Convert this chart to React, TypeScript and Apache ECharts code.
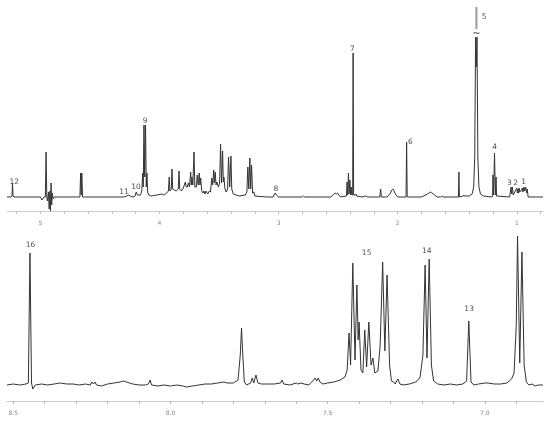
import React, { useEffect, useRef } from "react";
import * as echarts from "echarts";

// Upper panel spectrum (ppm, intensity)
const topSpectrum: [number, number][] = [
  [5.28, 0], [5.245, 0], [5.238, 1], [5.234, 14], [5.229, 1], [5.222, 0],
  [5.1, 0], [5.0, 0], [4.985, -3], [4.97, 0],
  [4.958, 0], [4.952, 45], [4.946, 0], [4.94, -4], [4.932, 5], [4.926, -12], [4.92, 6], [4.915, -14],
  [4.91, 14], [4.905, -8], [4.9, 4], [4.893, -2], [4.885, 0],
  [4.7, 0], [4.668, 0], [4.662, 24], [4.657, 2], [4.652, 24], [4.646, 0],
  [4.4, 0], [4.3, 0], [4.275, 1], [4.26, 2], [4.245, 1], [4.22, 0],
  [4.205, 1], [4.195, 5], [4.185, 2],
  [4.16, 2], [4.148, 6], [4.141, 24], [4.136, 10], [4.13, 72], [4.124, 20], [4.117, 72], [4.111, 10],
  [4.105, 24], [4.099, 5], [4.09, 2],
  [4.07, 1], [4.02, 2], [3.98, 3], [3.96, 2], [3.94, 4],
  [3.925, 6], [3.918, 20], [3.912, 6], [3.901, 8], [3.895, 28], [3.889, 8], [3.86, 6], [3.842, 8],
  [3.836, 26], [3.83, 8], [3.815, 6], [3.8, 9], [3.783, 15], [3.775, 10], [3.766, 10], [3.758, 14],
  [3.748, 10], [3.738, 25], [3.733, 12], [3.727, 20], [3.72, 12], [3.71, 45], [3.703, 10], [3.69, 10],
  [3.683, 22], [3.675, 12], [3.666, 24], [3.66, 12], [3.654, 19], [3.645, 6], [3.635, 4], [3.627, 6],
  [3.618, 3], [3.61, 6], [3.595, 3], [3.582, 6], [3.572, 5], [3.56, 19], [3.553, 12], [3.545, 27],
  [3.539, 14], [3.532, 25], [3.525, 12], [3.518, 15], [3.505, 10], [3.495, 14], [3.487, 53],
  [3.479, 14], [3.47, 46], [3.464, 15], [3.459, 20], [3.45, 8], [3.44, 5], [3.428, 8], [3.42, 40],
  [3.41, 10], [3.4, 41], [3.393, 8], [3.38, 3], [3.33, 1], [3.28, 2], [3.266, 5], [3.258, 30],
  [3.25, 8], [3.241, 39], [3.234, 8], [3.227, 32], [3.218, 4], [3.207, 5], [3.2, 1], [3.1, 0],
  [3.045, 0], [3.035, 3], [3.028, 4], [3.018, 2], [3.0, 0],
  [2.8, 0], [2.79, 1], [2.78, 0],
  [2.56, 0], [2.535, 3], [2.525, 4], [2.515, 3], [2.505, 4], [2.495, 2], [2.48, 0],
  [2.43, 1], [2.425, 15], [2.42, 2], [2.413, 24], [2.408, 3], [2.401, 17], [2.396, 2], [2.39, 10],
  [2.385, 2], [2.378, 2], [2.374, 144], [2.37, 2],
  [2.355, 2], [2.35, 3], [2.345, 1],
  [2.3, 0], [2.27, 1], [2.25, 0],
  [2.15, 0], [2.143, 8], [2.137, 0],
  [2.09, 0], [2.06, 4], [2.05, 7], [2.04, 8], [2.03, 6], [2.02, 3], [2.0, 0],
  [1.93, 0], [1.925, 55], [1.92, 0],
  [1.8, 0], [1.75, 3], [1.725, 5], [1.7, 3], [1.67, 0],
  [1.64, 0], [1.63, 1], [1.62, 0],
  [1.49, 0], [1.486, 25], [1.482, 0],
  [1.45, 1], [1.445, 2], [1.44, 1],
  [1.4, 1], [1.375, 3], [1.362, 10], [1.353, 40], [1.346, 160], [1.34, 130], [1.334, 160],
  [1.327, 40], [1.318, 10], [1.305, 3], [1.28, 1],
  [1.21, 0], [1.203, 1], [1.2, 22], [1.195, 2], [1.187, 44], [1.18, 2], [1.174, 20], [1.17, 1],
  [1.06, 0], [1.048, 10], [1.043, 3], [1.037, 10], [1.03, 2],
  [1.0, 9], [0.995, 4], [0.99, 8], [0.985, 4], [0.98, 9], [0.975, 5], [0.965, 6],
  [0.953, 9], [0.948, 5], [0.94, 10], [0.933, 6], [0.925, 10], [0.918, 4], [0.912, 8], [0.905, 0],
  [0.78, 0],
];

// Lower panel spectrum (aromatic region)
const bottomSpectrum: [number, number][] = [
  [8.52, 0], [8.5, 1], [8.48, 0], [8.46, 1], [8.452, 2], [8.447, 132], [8.442, 2], [8.438, -4],
  [8.43, 0], [8.41, 1], [8.39, 0], [8.37, 1], [8.35, 2], [8.33, 1], [8.31, 1], [8.29, 0], [8.27, 1],
  [8.255, 0], [8.25, 3], [8.245, 1], [8.24, 3], [8.235, 0], [8.22, -1], [8.2, 1], [8.18, 2],
  [8.16, 3], [8.15, 4], [8.14, 3], [8.12, 1], [8.1, 0], [8.08, 0], [8.07, 1], [8.065, 5], [8.06, 0],
  [8.04, -1], [8.02, 0], [8.0, -1], [7.98, 0], [7.96, -1], [7.95, -2], [7.93, -1], [7.91, 0],
  [7.89, 1], [7.87, 1], [7.85, 2], [7.83, 3], [7.82, 2], [7.8, 2], [7.785, 5], [7.778, 30],
  [7.774, 57], [7.77, 30], [7.765, 3], [7.758, 0], [7.745, 2], [7.74, 7], [7.735, 2], [7.728, 10],
  [7.722, 2], [7.71, 1], [7.69, 1], [7.67, 1], [7.65, 2], [7.645, 5], [7.64, 1], [7.62, 0],
  [7.6, 2], [7.595, 1], [7.585, 2], [7.575, 1], [7.56, 0], [7.545, 5], [7.54, 7], [7.535, 4],
  [7.53, 7], [7.525, 3], [7.515, 1], [7.5, 2], [7.48, 3], [7.46, 5], [7.445, 8], [7.438, 15],
  [7.432, 52], [7.427, 20], [7.42, 122], [7.413, 25], [7.407, 100], [7.403, 45], [7.4, 63],
  [7.394, 15], [7.388, 12], [7.382, 55], [7.376, 18], [7.369, 63], [7.362, 20], [7.356, 27],
  [7.35, 12], [7.34, 14], [7.333, 40], [7.325, 123], [7.318, 34], [7.311, 110], [7.303, 20],
  [7.297, 4], [7.29, 3], [7.285, 1], [7.277, 6], [7.27, 1], [7.26, 0], [7.24, 1], [7.22, 3],
  [7.21, 6], [7.206, 8], [7.197, 30], [7.19, 120], [7.184, 27], [7.177, 126], [7.17, 20],
  [7.163, 4], [7.15, 1], [7.13, 0], [7.11, 1], [7.09, 0], [7.07, 1], [7.058, 4], [7.051, 64],
  [7.044, 3], [7.035, 0], [7.02, 1], [7.0, 2], [6.99, 2], [6.97, 1], [6.95, 1], [6.93, 2],
  [6.915, 6], [6.907, 12], [6.9, 60], [6.896, 149], [6.889, 22], [6.882, 133], [6.875, 20],
  [6.868, 3], [6.86, 0], [6.85, 1], [6.84, -1], [6.83, 0], [6.815, 0],
];

// Peak numbers: [ppm, intensity, text]
const topPeakLabels: [number, number, string][] = [
  [5.22, 16, "12"], [4.298, 6, "11"], [4.197, 11, "10"], [4.12, 77, "9"], [3.023, 9, "8"],
  [2.38, 149, "7"], [1.893, 56, "6"], [1.275, 181, "5"], [1.185, 51, "4"], [1.062, 15, "3"],
  [1.009, 15, "2"], [0.942, 16, "1"],
];
const bottomPeakLabels: [number, number, string][] = [
  [8.445, 141, "16"], [7.376, 133, "15"], [7.185, 135, "14"], [7.05, 77, "13"],
];

// Truncated top of peak 5 and its break mark
const truncatedTop: [number, number][] = [[1.339, 168], [1.339, 190]];
const breakMark: [number, number, string][] = [[1.339, 164, "~"]];

// Axis ticks and labels
const topTickValues = [0.8, 1.0, 1.2, 1.4, 1.6, 1.8, 2.0, 2.2, 2.4, 2.6, 2.8, 3.0, 3.2, 3.4, 3.6, 3.8, 4.0, 4.2, 4.4, 4.6, 4.8, 5.0, 5.2];
const topLabelValues = [1, 2, 3, 4, 5];
const bottomTickValues = [6.9, 7.0, 7.1, 7.2, 7.3, 7.4, 7.5, 7.6, 7.7, 7.8, 7.9, 8.0, 8.1, 8.2, 8.3, 8.4, 8.5];
const bottomLabelValues = [7.0, 7.5, 8.0, 8.5];

const FONT = "DejaVu Sans";

function axisX(gridIndex: number, min: number, max: number, ticks: number[], labels: number[], fmt: (v: number) => string) {
  return {
    type: "value",
    gridIndex,
    inverse: true,
    min,
    max,
    axisLine: { show: true, onZero: false, lineStyle: { color: "#cccccc", width: 1 } },
    axisTick: { show: true, customValues: ticks, length: 3, lineStyle: { color: "#bbbbbb" } },
    axisLabel: {
      show: true,
      customValues: labels,
      fontSize: 6,
      color: "#888888",
      fontFamily: FONT,
      margin: 8,
      formatter: (v: number) => fmt(v),
    },
    splitLine: { show: false },
  };
}

function labelSeries(xi: number, data: [number, number, string][], size: number) {
  return {
    type: "scatter",
    xAxisIndex: xi,
    yAxisIndex: xi,
    data,
    symbolSize: 1,
    itemStyle: { color: "rgba(0,0,0,0)" },
    silent: true,
    label: {
      show: true,
      position: "inside",
      formatter: (p: any) => p.data[2],
      fontSize: size,
      color: "#222222",
      textBorderWidth: 0,
      textBorderColor: "transparent",
      fontFamily: FONT,
    },
  };
}

export default function App() {
  const ref = useRef<HTMLDivElement>(null);
  useEffect(() => {
    if (!ref.current) return;
    const chart = echarts.init(ref.current, undefined, { renderer: "svg" });
    chart.setOption({
      animation: false,
      grid: [
        { left: 7, right: 7, top: 5, height: 206 },
        { left: 7, right: 7, top: 231, height: 170 },
      ],
      xAxis: [
        axisX(0, 0.78, 5.28, topTickValues, topLabelValues, (v) => String(Math.round(v))),
        axisX(1, 6.815, 8.52, bottomTickValues, bottomLabelValues, (v) => v.toFixed(1)),
      ],
      yAxis: [
        { type: "value", gridIndex: 0, min: -14, max: 192, show: false },
        { type: "value", gridIndex: 1, min: -16, max: 154, show: false },
      ],
      series: [
        {
          type: "line",
          xAxisIndex: 0,
          yAxisIndex: 0,
          data: topSpectrum,
          symbol: "none",
          lineStyle: { color: "#333333", width: 1 },
        },
        {
          type: "line",
          xAxisIndex: 0,
          yAxisIndex: 0,
          data: truncatedTop,
          symbol: "none",
          lineStyle: { color: "#999999", width: 2 },
        },
        labelSeries(0, breakMark, 10),
        {
          type: "line",
          xAxisIndex: 1,
          yAxisIndex: 1,
          data: bottomSpectrum,
          symbol: "none",
          lineStyle: { color: "#333333", width: 1 },
        },
        labelSeries(0, topPeakLabels, 7.5),
        labelSeries(1, bottomPeakLabels, 7.5),
      ],
    });
    return () => chart.dispose();
  }, []);
  return (
    <div
      ref={ref}
      style={{ position: "fixed", left: 0, top: 0, width: 550, height: 421, opacity: 0.999, willChange: "transform" }}
    />
  );
}
